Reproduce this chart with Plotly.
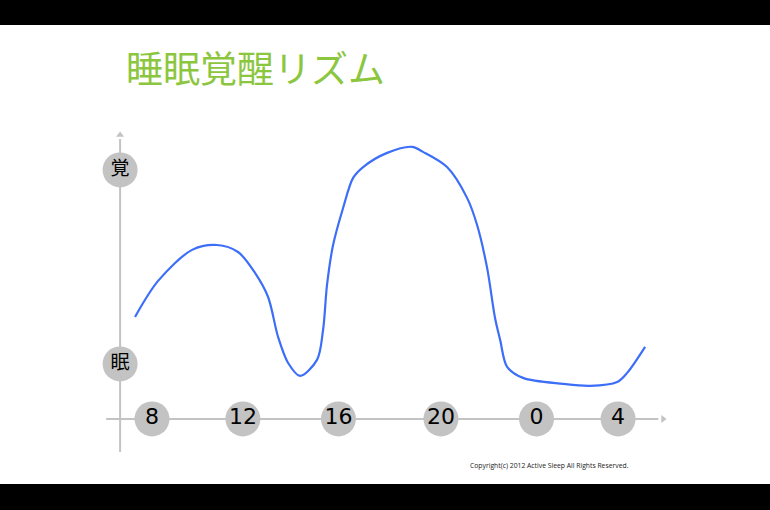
import plotly.graph_objects as go

# -- Data -------------------------------------------------------------------
# hour of day (continuous, 24 = midnight) and arousal level (0 = 眠, 1 = 覚)
curve_hours = [7.27, 8.26, 9.72, 10.79, 11.69, 12.42, 12.98, 13.41, 13.84,
               14.35, 15.08, 15.34, 15.51, 15.77, 16.20, 16.63, 17.06, 18.09,
               19.16, 19.63, 20.66, 21.52, 21.95, 22.38, 22.72, 22.94, 23.24,
               23.92, 25.64, 26.80, 27.96, 28.39, 29.16]
curve_level = [0.242, 0.428, 0.588, 0.613, 0.577, 0.469, 0.345, 0.139, 0.005,
               -0.062, 0.021, 0.175, 0.407, 0.613, 0.804, 0.959, 1.015, 1.088,
               1.119, 1.093, 1.015, 0.856, 0.716, 0.495, 0.237, 0.124, -0.015,
               -0.072, -0.103, -0.113, -0.093, -0.046, 0.088]

tick_hours = [8, 11.9, 16.0, 20.4, 24.5, 28]
tick_labels = ["8", "12", "16", "20", "0", "4"]

level_values = [1, 0]
level_labels = ["覚", "眠"]

TITLE = "睡眠覚醒リズム"
COPYRIGHT = "Copyright(c) 2012 Active Sleep All Rights Reserved."

# -- Style ------------------------------------------------------------------
GREEN = "#8cc63f"
BLUE = "#3d6ef7"
GREY = "#c3c3c3"
AXIS_Y = -0.2835      # level where the time axis sits
AXIS_X = 6.63         # hour where the level axis sits
X_END = (6.03, 29.93)
Y_END = (-0.454, 1.18)
JP_FONT = "Noto Sans CJK JP"

fig = go.Figure()

# white slide area between the black bands
fig.add_shape(type="rect", xref="paper", yref="paper",
              x0=0, x1=1, y0=26 / 510, y1=485 / 510,
              fillcolor="white", line_width=0, layer="below")

# axis lines (below the badges)
fig.add_shape(type="line", xref="x", yref="y", x0=X_END[0], x1=X_END[1] - 0.2,
              y0=AXIS_Y, y1=AXIS_Y, line=dict(color=GREY, width=2), layer="below")
fig.add_shape(type="line", xref="x", yref="y", x0=AXIS_X, x1=AXIS_X,
              y0=Y_END[0], y1=Y_END[1] - 0.02, line=dict(color=GREY, width=2),
              layer="below")

# arrow heads
fig.add_trace(go.Scatter(
    x=[X_END[1], AXIS_X], y=[AXIS_Y, Y_END[1]], mode="markers",
    marker=dict(symbol=["triangle-right", "triangle-up"], size=7, color=GREY),
    hoverinfo="skip",
))

# rhythm curve
fig.add_trace(go.Scatter(
    x=curve_hours, y=curve_level, mode="lines",
    line=dict(color=BLUE, width=2.2, shape="spline", smoothing=0.9),
    hoverinfo="skip",
))

# time badges
fig.add_trace(go.Scatter(
    x=tick_hours, y=[AXIS_Y] * len(tick_hours), mode="markers+text",
    marker=dict(size=35, color=GREY), text=tick_labels,
    textposition="middle center",
    textfont=dict(family="DejaVu Sans", size=22, color="black"),
    hoverinfo="skip",
))

# level badges
fig.add_trace(go.Scatter(
    x=[AXIS_X] * len(level_values), y=level_values, mode="markers+text",
    marker=dict(size=35, color=GREY), text=level_labels,
    textposition="middle center",
    textfont=dict(family=JP_FONT, size=19, color="black"),
    hoverinfo="skip",
))

fig.add_annotation(text=TITLE, xref="paper", yref="paper",
                   x=124 / 770, y=1 - 67 / 510, xanchor="left", yanchor="middle",
                   showarrow=False,
                   font=dict(family=JP_FONT, size=37, color=GREEN))
fig.add_annotation(text=COPYRIGHT, xref="paper", yref="paper",
                   x=631 / 770, y=1 - 465 / 510, xanchor="right", yanchor="middle",
                   showarrow=False,
                   font=dict(family="Open Sans", size=6.8, color="#222222"))

fig.update_layout(
    width=770, height=510,
    margin=dict(l=0, r=0, t=0, b=0),
    paper_bgcolor="black", plot_bgcolor="rgba(0,0,0,0)",
    showlegend=False,
    xaxis=dict(range=[1.476, 34.52], visible=False, fixedrange=True),
    yaxis=dict(range=[-0.753, 1.876], visible=False, fixedrange=True),
)

# page body has a default margin; drop it so the slide fills the window
fig.write_html("out.html", config={"displayModeBar": False},
               post_script="document.body.style.margin='0';")
